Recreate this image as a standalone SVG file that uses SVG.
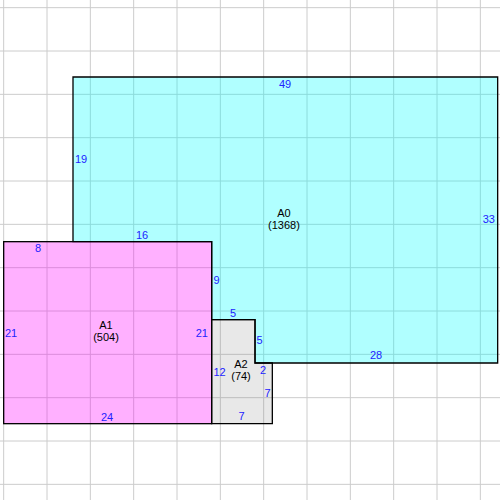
<svg xmlns="http://www.w3.org/2000/svg" width="500" height="500" viewBox="0 0 500 500">
<style>
.grid{stroke:#cccccc;stroke-width:1;fill:none}
.shape{stroke:#000000;stroke-width:1.3;stroke-linejoin:miter}
.e{font-family:"Liberation Sans",Arial,sans-serif;font-size:11px;fill:#2222ff}
.n{font-family:"Liberation Sans",Arial,sans-serif;font-size:11px;fill:#000000;text-anchor:middle}
.m{text-anchor:middle}
.s{text-anchor:start}
.en{text-anchor:end}
</style>
<rect x="0" y="0" width="500" height="500" fill="#ffffff"/>
<g id="grid">
<path class="grid" d="M3.67,0V500M47,0V500M90.33,0V500M133.67,0V500M177,0V500M220.33,0V500M263.67,0V500M307,0V500M350.33,0V500M393.67,0V500M437,0V500M480.33,0V500M0,7.67H500M0,51H500M0,94.33H500M0,137.67H500M0,181H500M0,224.33H500M0,267.67H500M0,311H500M0,354.33H500M0,397.67H500M0,441H500M0,484.33H500"/>
</g>
<g id="A0">
<polygon class="shape" fill="rgba(0,255,255,0.31)" points="73,77 497.67,77 497.67,363 255,363 255,319.67 211.67,319.67 211.67,241.67 73,241.67"/>
<text class="e m" x="285" y="88">49</text>
<text class="e en" x="495" y="223">33</text>
<text class="e m" x="376" y="359">28</text>
<text class="e s" x="256.5" y="344">5</text>
<text class="e m" x="233" y="316.5">5</text>
<text class="e s" x="213.5" y="284">9</text>
<text class="e m" x="142" y="239">16</text>
<text class="e s" x="75" y="163">19</text>
<text class="n" x="284" y="217">A0</text>
<text class="n" x="284" y="229">(1368)</text>
</g>
<g id="A1">
<rect class="shape" fill="rgba(255,0,255,0.31)" x="3.67" y="241.67" width="208" height="182"/>
<text class="e m" x="38" y="252">8</text>
<text class="e s" x="5" y="337">21</text>
<text class="e en" x="208" y="337">21</text>
<text class="e m" x="107" y="421">24</text>
<text class="n" x="106" y="328.5">A1</text>
<text class="n" x="106" y="341">(504)</text>
</g>
<g id="A2">
<polygon class="shape" fill="rgba(128,128,128,0.18)" points="211.67,319.67 255,319.67 255,363 272.33,363 272.33,423.67 211.67,423.67"/>
<text class="e s" x="213.5" y="376">12</text>
<text class="e m" x="263" y="374">2</text>
<text class="e en" x="270.5" y="397">7</text>
<text class="e m" x="241.5" y="420">7</text>
<text class="n" x="241" y="367.5">A2</text>
<text class="n" x="241" y="380">(74)</text>
</g>
<g id="connectors"></g>
</svg>
